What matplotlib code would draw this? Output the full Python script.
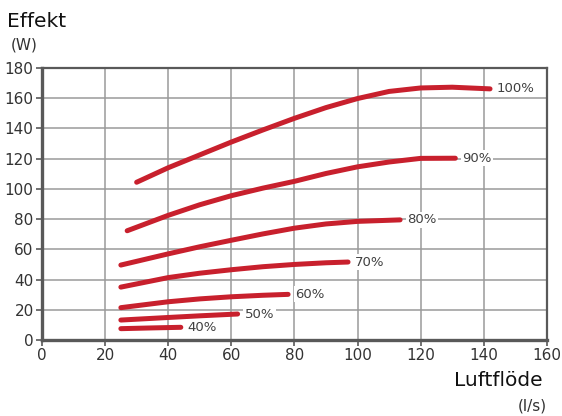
import numpy as np
import matplotlib.pyplot as plt

# fan curves, air flow (l/s) vs power (W)
x100 = [30, 40, 50, 60, 70, 80, 90, 100, 110, 120, 130, 142]
y100 = [104.4, 114, 122.5, 131, 139, 146.7, 153.8, 159.8, 164.5, 166.8, 167.3, 166.2]
x90 = [27, 40, 50, 60, 70, 80, 90, 100, 110, 120, 131]
y90 = [72.3, 82.5, 89.5, 95.5, 100.5, 105, 110.2, 114.6, 117.8, 120.2, 120.3]
x80 = [25, 40, 50, 60, 70, 80, 90, 100, 113.5]
y80 = [49.6, 57, 61.7, 66, 70.2, 74, 76.8, 78.5, 79.5]
x70 = [25, 40, 50, 60, 70, 80, 90, 97]
y70 = [35, 41.3, 44.2, 46.5, 48.5, 50, 51.1, 51.6]
x60 = [25, 40, 50, 60, 70, 78]
y60 = [21.4, 25.3, 27.2, 28.6, 29.6, 30.2]
x50 = [25, 40, 50, 62]
y50 = [13.2, 14.9, 16, 17.2]
x40 = [25, 35, 44]
y40 = [7.5, 8.0, 8.4]

curves = [(x100, y100, "100%"), (x90, y90, "90%"), (x80, y80, "80%"),
          (x70, y70, "70%"), (x60, y60, "60%"), (x50, y50, "50%"), (x40, y40, "40%")]

red = "#c8202d"
grey = "#595959"

fig = plt.figure(figsize=(5.62, 4.16), dpi=100)
ax = fig.add_axes([0.0747, 0.1827, 0.8983, 0.6538])

for xs, ys, lab in curves:
    ax.plot(xs, ys, color=red, lw=3.6, solid_capstyle="round", solid_joinstyle="round", zorder=3)
    ax.text(xs[-1] + 2.2, ys[-1], lab, fontsize=9.5, color="#404040", va="center", ha="left",
            zorder=4, bbox=dict(facecolor="white", edgecolor="none", pad=1.0))

ax.set_xlim(0, 160)
ax.set_ylim(0, 180)
ax.set_xticks(np.arange(0, 161, 20))
ax.set_yticks(np.arange(0, 181, 20))
ax.grid(True, color="#9a9a9a", lw=1.1, zorder=0)
ax.set_axisbelow(True)
for s in ["top", "right"]:
    ax.spines[s].set_color(grey)
    ax.spines[s].set_linewidth(1.6)
for s in ["left", "bottom"]:
    ax.spines[s].set_color(grey)
    ax.spines[s].set_linewidth(2.4)
ax.tick_params(colors=grey, labelcolor="#333333", labelsize=11, length=4, width=1.2, pad=2)

fig.text(0.012, 0.935, "Effekt", fontsize=14.5, color="#111111", ha="left", va="baseline")
fig.text(0.02, 0.88, "(W)", fontsize=11, color="#333333", ha="left", va="baseline")
fig.text(0.965, 0.072, "Luftflöde", fontsize=14.5, color="#111111", ha="right", va="baseline")
fig.text(0.973, 0.013, "(l/s)", fontsize=11, color="#333333", ha="right", va="baseline")

plt.savefig("out.png", dpi=100)
